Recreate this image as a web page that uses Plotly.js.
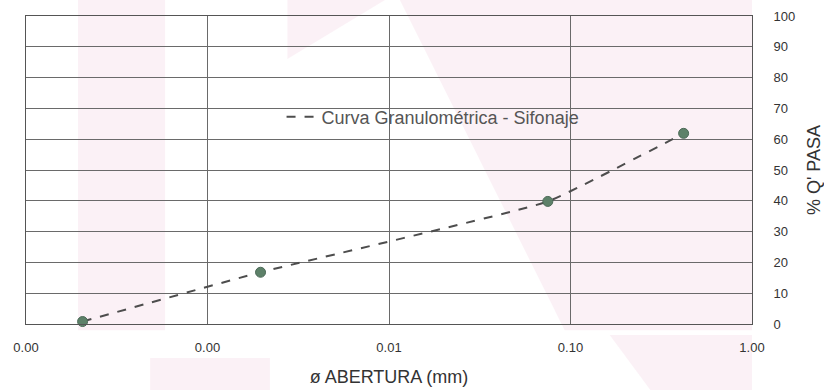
<!DOCTYPE html>
<html>
<head>
<meta charset="utf-8">
<script src="https://cdn.plot.ly/plotly-3.0.1.min.js"></script>
<style>html,body{margin:0;padding:0;background:#fff}#chart{width:824px;height:390px}</style>
</head>
<body>
<div id="chart"></div>
<script>
const seriesName = "Curva Granulométrica - Sifonaje";
const abertura = [0.000205, 0.00196, 0.075, 0.42];
const pasa = [0.8, 16.8, 39.8, 61.9];
const xTickVals = [0.0001, 0.001, 0.01, 0.1, 1];
const xTickText = ["0.00", "0.00", "0.01", "0.10", "1.00"];
const yTickVals = [0, 10, 20, 30, 40, 50, 60, 70, 80, 90, 100];
const xTitle = "ø ABERTURA (mm)";
const yTitle = "% Q' PASA";

const fontFam = "Liberation Sans, Arial, sans-serif";
const textColor = "#333333";
const wm = "rgba(228,160,195,0.15)";

const lineTrace = {
  x: abertura, y: pasa, type: "scatter", mode: "lines",
  name: seriesName,
  line: {color: "#4d4d4d", width: 2, dash: "dash", shape: "spline", smoothing: 0.35},
  showlegend: true
};
const markerTrace = {
  x: abertura, y: pasa, type: "scatter", mode: "markers",
  name: seriesName, showlegend: false,
  marker: {color: "#5d8169", size: 10, line: {width: 1, color: "#4c6a58"}},
  cliponaxis: false
};

function poly(pts) {
  return {type: "path", xref: "paper", yref: "paper", layer: "below",
    fillcolor: wm, line: {width: 0},
    path: "M" + pts.map(p => p[0] + "," + p[1]).join(" L") + " Z"};
}

const layout = {
  width: 824, height: 390,
  margin: {l: 26, r: 72, t: 16, b: 66},
  paper_bgcolor: "#ffffff", plot_bgcolor: "rgba(0,0,0,0)",
  font: {family: fontFam, color: textColor, size: 13},
  showlegend: true,
  legend: {x: 0.352, y: 0.672, xanchor: "left", yanchor: "middle",
    bgcolor: "rgba(0,0,0,0)", font: {size: 18, color: "#555", family: fontFam}},
  shapes: [
    poly([[0.0716, -0.02], [0.1915, -0.02], [0.1915, 1.052], [0.0716, 1.052]]),
    poly([[0.171, -0.11], [0.336, -0.11], [0.336, -0.214], [0.171, -0.214]]),
    poly([[0.36, 1.052], [0.4945, 1.052], [0.36, 0.86]]),
    poly([[0.515, 1.052], [1.0, 1.052], [1.0, -0.02], [0.742, -0.02]]),
    poly([[0.804, -0.036], [1.0, -0.036], [1.0, -0.214], [0.86, -0.214]])
  ],
  xaxis: {
    type: "log", range: [-4, 0],
    tickvals: xTickVals, ticktext: xTickText,
    showgrid: true, gridcolor: "#6a6a6a", gridwidth: 1,
    showline: true, linecolor: "#555", linewidth: 1, mirror: true,
    ticks: "", ticklabelstandoff: 11, zeroline: false,
    tickfont: {size: 13},
    title: {text: xTitle, font: {size: 18, family: fontFam}, standoff: 16}
  },
  yaxis: {
    side: "right", range: [0, 100],
    tickvals: yTickVals,
    showgrid: true, gridcolor: "#6a6a6a", gridwidth: 1,
    showline: true, linecolor: "#555", linewidth: 1, mirror: true,
    ticks: "", ticklabelstandoff: 18, zeroline: false,
    tickfont: {size: 13},
    title: {text: yTitle, font: {size: 18, family: fontFam}, standoff: 15}
  }
};

Plotly.newPlot("chart", [lineTrace, markerTrace], layout, {displayModeBar: false, staticPlot: true});
</script>
</body>
</html>
